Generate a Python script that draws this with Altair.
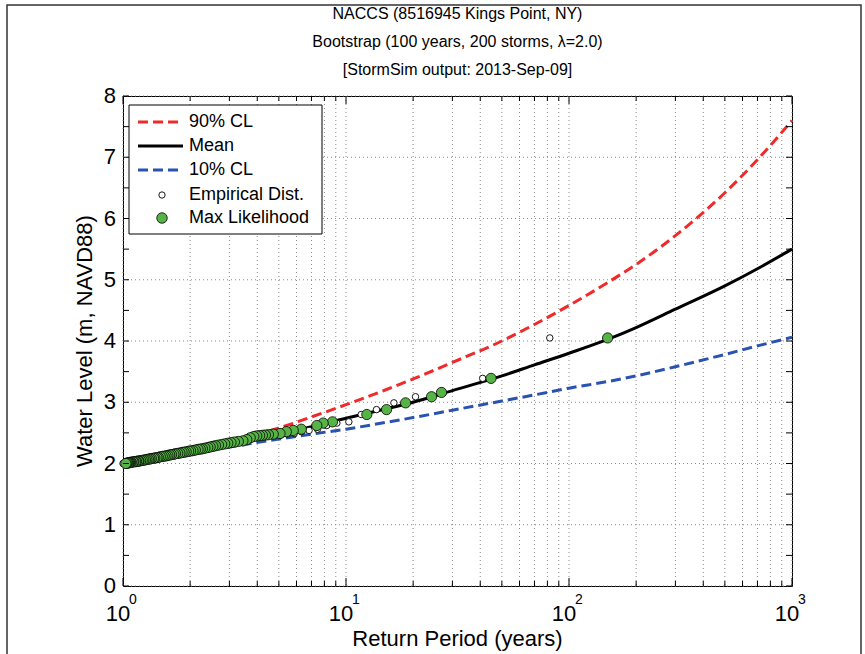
import altair as alt
import pandas as pd

W, H = 669, 490
FONT = "Liberation Sans"

# ---------------- data ----------------
T_grid = [1, 1.5, 2, 3, 5, 7, 10, 15, 20, 30, 50, 70, 100, 150, 200, 300, 500, 700, 1000]
wl_90 = [2.0, 2.12, 2.21, 2.36, 2.58, 2.76, 2.96, 3.2, 3.38, 3.65, 4.0, 4.27, 4.58, 4.96, 5.25, 5.72, 6.42, 6.96, 7.6]
wl_mean = [2.0, 2.11, 2.2, 2.33, 2.48, 2.6, 2.74, 2.89, 3.0, 3.19, 3.43, 3.61, 3.8, 4.03, 4.22, 4.52, 4.9, 5.18, 5.5]
wl_10 = [2.0, 2.1, 2.17, 2.27, 2.4, 2.48, 2.56, 2.67, 2.75, 2.87, 3.02, 3.12, 3.23, 3.34, 3.43, 3.58, 3.78, 3.92, 4.06]

emp_T = [82, 41, 27.3, 20.5, 16.4, 13.7, 11.7, 10.3, 9.1, 8.2,
         7.45, 6.83, 6.31, 5.86, 5.47, 5.13, 4.82, 4.56, 4.32, 4.1,
         3.9, 3.73, 3.57, 3.42, 3.28, 3.15, 3.04, 2.93, 2.83, 2.73,
         2.65, 2.56, 2.48, 2.41, 2.34, 2.28, 2.22, 2.16, 2.1, 2.05,
         2.0, 1.95, 1.91, 1.86, 1.82, 1.78, 1.74, 1.71, 1.67, 1.64,
         1.61, 1.58, 1.55, 1.52, 1.49, 1.46, 1.44, 1.41, 1.39, 1.37,
         1.34, 1.32, 1.3, 1.28, 1.26, 1.24, 1.22, 1.21, 1.19, 1.17,
         1.15, 1.14, 1.12, 1.11, 1.09, 1.08, 1.06, 1.05, 1.04, 1.03,
         1.01, 1.0]
storm_wl = [4.05, 3.39, 3.16, 3.09, 2.99, 2.88, 2.80, 2.68, 2.66, 2.62,
            2.56, 2.54, 2.52, 2.49, 2.48, 2.47, 2.465, 2.46, 2.455, 2.45,
            2.44, 2.42, 2.39, 2.37, 2.36, 2.35, 2.34, 2.33, 2.32, 2.31,
            2.30, 2.29, 2.28, 2.27, 2.26, 2.25, 2.24, 2.235, 2.23, 2.22,
            2.21, 2.205, 2.20, 2.19, 2.185, 2.18, 2.17, 2.165, 2.16, 2.15,
            2.145, 2.14, 2.13, 2.125, 2.12, 2.115, 2.11, 2.10, 2.095, 2.09,
            2.085, 2.08, 2.075, 2.07, 2.065, 2.06, 2.055, 2.05, 2.045, 2.04,
            2.04, 2.035, 2.03, 2.03, 2.025, 2.02, 2.02, 2.015, 2.01, 2.01,
            2.005, 2.0]
ml_T = [149, 44.7, 26.8, 24.2, 18.5, 15.2, 12.4, 8.7, 7.9, 7.4,
        6.3, 5.8, 5.4, 5.06, 4.72, 4.49, 4.35, 4.22, 4.1, 3.98,
        3.86, 3.72, 3.59, 3.45, 3.29, 3.16, 3.05, 2.95, 2.86, 2.77,
        2.68, 2.6, 2.53, 2.46, 2.4, 2.33, 2.27, 2.22, 2.17, 2.11,
        2.06, 2.01, 1.97, 1.92, 1.88, 1.84, 1.8, 1.76, 1.72, 1.69,
        1.65, 1.62, 1.59, 1.56, 1.53, 1.5, 1.47, 1.44, 1.42, 1.39,
        1.37, 1.34, 1.32, 1.3, 1.28, 1.26, 1.24, 1.22, 1.2, 1.18,
        1.17, 1.15, 1.14, 1.12, 1.11, 1.09, 1.08, 1.07, 1.06, 1.05,
        1.04, 1.03]

x_major = [1, 10, 100, 1000]
x_minor = [2, 3, 4, 5, 6, 7, 8, 9, 20, 30, 40, 50, 60, 70, 80, 90,
           200, 300, 400, 500, 600, 700, 800, 900]
x_grid = x_major + x_minor
y_major = [0, 1, 2, 3, 4, 5, 6, 7, 8]
y_labels = ["0", "1", "2", "3", "4", "5", "6", "7", "8"]
y_ticks = [0, 0.5, 1, 1.5, 2, 2.5, 3, 3.5, 4, 4.5, 5, 5.5, 6, 6.5, 7, 7.5, 8]
x_exp = ["0", "1", "2", "3"]

title_lines = ["NACCS (8516945 Kings Point, NY)",
               "Bootstrap (100 years, 200 storms, \u03bb=2.0)",
               "[StormSim output: 2013-Sep-09]"]
legend_labels = ["90% CL", "Mean", "10% CL", "Empirical Dist.", "Max Likelihood"]

RED = "#f02a2a"
BLUE = "#2a52b0"
GREEN = "#56b447"
GRID = "#8a8a8a"

# ---------------- scales ----------------
xs = alt.Scale(type="log", domain=[1, 1000])
ys = alt.Scale(domain=[0, 8])


def X(field):
    return alt.X(field, scale=xs, axis=None)


def Y(field):
    return alt.Y(field, scale=ys, axis=None)


curves = pd.DataFrame({"T": T_grid, "p90": wl_90, "mean": wl_mean, "p10": wl_10})
emp = pd.DataFrame({"T": emp_T, "wl": storm_wl})
ml = pd.DataFrame({"T": ml_T, "wl": storm_wl})
one = pd.DataFrame({"a": [0]})

# grid lines (dotted)
xgrid = alt.Chart(pd.DataFrame({"T": x_grid})).mark_rule(
    color=GRID, strokeWidth=1, strokeDash=[1, 3]).encode(
    x=X("T:Q"), y=alt.value(0), y2=alt.value(H))
ygrid = alt.Chart(pd.DataFrame({"wl": y_major})).mark_rule(
    color=GRID, strokeWidth=1, strokeDash=[1, 3]).encode(
    y=Y("wl:Q"), x=alt.value(0), x2=alt.value(W))

base = alt.Chart(curves)
line90 = base.mark_line(color=RED, strokeWidth=3, strokeDash=[10, 5], interpolate="monotone").encode(
    x=X("T:Q"), y=Y("p90:Q"))
linemean = base.mark_line(color="black", strokeWidth=3, interpolate="monotone").encode(
    x=X("T:Q"), y=Y("mean:Q"))
line10 = base.mark_line(color=BLUE, strokeWidth=3, strokeDash=[10, 5], interpolate="monotone").encode(
    x=X("T:Q"), y=Y("p10:Q"))

emp_pts = alt.Chart(emp).mark_point(shape="circle", filled=True, fill="white",
                                   stroke="black", strokeWidth=0.9, size=42, opacity=1).encode(
    x=X("T:Q"), y=Y("wl:Q"))
ml_pts = alt.Chart(ml).mark_point(shape="circle", filled=True, fill=GREEN,
                                 stroke="black", strokeWidth=0.8, size=105, opacity=1).encode(
    x=X("T:Q"), y=Y("wl:Q"))

# inward ticks on all four sides
tmaj = pd.DataFrame({"T": x_major})
tmin = pd.DataFrame({"T": x_minor})
tyy = pd.DataFrame({"wl": y_ticks})
ticks = []
for df, ln in ((tmaj, 8), (tmin, 5)):
    ticks.append(alt.Chart(df).mark_rule(color="black", strokeWidth=1).encode(
        x=X("T:Q"), y=alt.value(H), y2=alt.value(H - ln)))
    ticks.append(alt.Chart(df).mark_rule(color="black", strokeWidth=1).encode(
        x=X("T:Q"), y=alt.value(0), y2=alt.value(ln)))
ticks.append(alt.Chart(tyy).mark_rule(color="black", strokeWidth=1).encode(
    y=Y("wl:Q"), x=alt.value(0), x2=alt.value(6)))
ticks.append(alt.Chart(tyy).mark_rule(color="black", strokeWidth=1).encode(
    y=Y("wl:Q"), x=alt.value(W), x2=alt.value(W - 6)))

# y tick labels
ylab = alt.Chart(pd.DataFrame({"wl": y_major, "lab": y_labels})).mark_text(
    font=FONT, fontSize=22, color="black", align="right", baseline="middle").encode(
    y=Y("wl:Q"), x=alt.value(-7), text="lab:N")

# x tick labels 10^n
xlab = pd.DataFrame({"T": x_major, "e": x_exp})
xlab_base = alt.Chart(xlab).mark_text(font=FONT, fontSize=22, color="black",
                                      align="center", baseline="middle", dx=-5).encode(
    x=X("T:Q"), y=alt.value(518), text=alt.value("10"))
xlab_exp = alt.Chart(xlab).mark_text(font=FONT, fontSize=14, color="black",
                                     align="center", baseline="middle", dx=10).encode(
    x=X("T:Q"), y=alt.value(504), text="e:N")

# axis titles
xtitle = alt.Chart(one).mark_text(font=FONT, fontSize=22, color="black",
                                  align="center", baseline="middle").encode(
    x=alt.value(W / 2), y=alt.value(543), text=alt.value("Return Period (years)"))
ytitle = alt.Chart(one).mark_text(font=FONT, fontSize=22, color="black", angle=270,
                                  align="center", baseline="middle").encode(
    x=alt.value(-38), y=alt.value(H / 2), text=alt.value("Water Level (m, NAVD88)"))

# title lines
titles = []
for line, py in zip(title_lines, [-82, -54, -26]):
    titles.append(alt.Chart(one).mark_text(
        font=FONT, fontSize=16, color="black",
        align="center", baseline="middle").encode(
        x=alt.value(W / 2), y=alt.value(py), text=alt.value(line)))

# legend
leg_box = alt.Chart(one).mark_rect(fill="white", stroke="black", strokeWidth=1).encode(
    x=alt.value(6), x2=alt.value(199), y=alt.value(9), y2=alt.value(138))
leg_rows = [26, 50, 74, 99, 122]
leg_txt = []
for lab, py in zip(legend_labels, leg_rows):
    leg_txt.append(alt.Chart(one).mark_text(
        font=FONT, fontSize=18, color="black", align="left", baseline="middle").encode(
        x=alt.value(66), y=alt.value(py), text=alt.value(lab)))
leg_l90 = alt.Chart(one).mark_rule(color=RED, strokeWidth=3, strokeDash=[10, 5]).encode(
    x=alt.value(15), x2=alt.value(60), y=alt.value(leg_rows[0]))
leg_lm = alt.Chart(one).mark_rule(color="black", strokeWidth=3).encode(
    x=alt.value(15), x2=alt.value(60), y=alt.value(leg_rows[1]))
leg_l10 = alt.Chart(one).mark_rule(color=BLUE, strokeWidth=3, strokeDash=[10, 5]).encode(
    x=alt.value(15), x2=alt.value(60), y=alt.value(leg_rows[2]))
leg_emp = alt.Chart(one).mark_point(shape="circle", filled=True, fill="white", stroke="black",
                                    strokeWidth=0.9, size=40, opacity=1).encode(
    x=alt.value(39), y=alt.value(leg_rows[3]))
leg_ml = alt.Chart(one).mark_point(shape="circle", filled=True, fill=GREEN, stroke="black",
                                   strokeWidth=0.8, size=110, opacity=1).encode(
    x=alt.value(39), y=alt.value(leg_rows[4]))

# outer figure frame
frame = alt.Chart(one).mark_rect(fillOpacity=0, stroke="#333333", strokeWidth=1.5).encode(
    x=alt.value(-116), x2=alt.value(738), y=alt.value(-91), y2=alt.value(575))

chart = alt.layer(
    xgrid, ygrid, line90, linemean, line10, emp_pts, ml_pts, *ticks,
    ylab, xlab_base, xlab_exp, xtitle, ytitle, *titles,
    leg_box, leg_l90, leg_lm, leg_l10, leg_emp, leg_ml, *leg_txt, frame
).properties(
    width=W, height=H,
    autosize=alt.AutoSizeParams(type="none"),
    padding={"left": 123, "top": 96, "right": 73, "bottom": 68},
    background="white",
).configure_view(stroke="black", strokeWidth=1)

chart.save("out.html", embed_options={"renderer": "svg", "actions": False})
